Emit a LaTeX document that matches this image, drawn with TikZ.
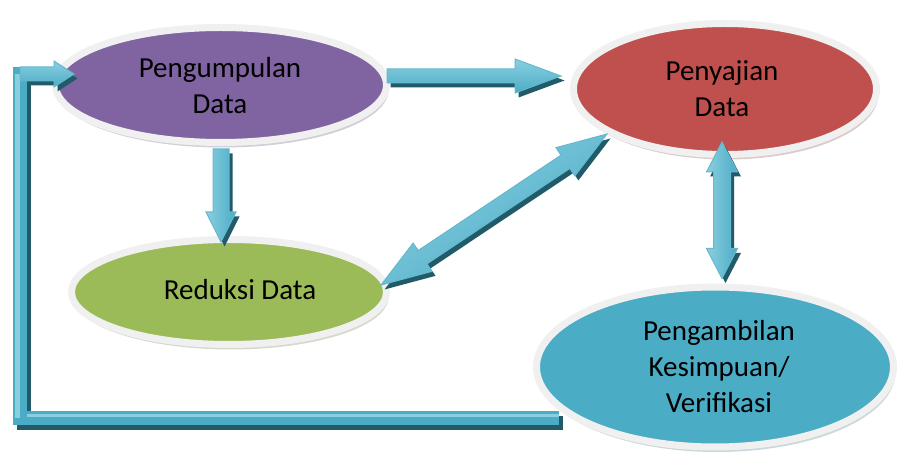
\documentclass[tikz,border=0pt]{standalone}
\usepackage{fontspec}
\setmainfont{Carlito}
\usetikzlibrary{shapes.geometric,shadows,calc}
\definecolor{purp}{HTML}{8064A2}
\definecolor{redd}{HTML}{C0504D}
\definecolor{grn}{HTML}{9BBB59}
\definecolor{aqua}{HTML}{4BACC6}
\definecolor{aqlight}{HTML}{8ACFE0}
\definecolor{aqdark}{HTML}{215A69}
\definecolor{ring}{HTML}{F0F0F0}
\tikzset{
 oval/.style={ellipse, line width=7pt, draw=ring, inner sep=0pt},
 lbl/.style={font=\fontsize{29}{36}\selectfont, align=center, text=black, inner sep=0pt},
 arrfill/.style={draw=aqua!85!white, line width=1pt, line join=miter, top color=aqlight, bottom color=aqua, shading angle=#1},
 arrshadow/.style={fill=aqdark, transform canvas={shift={(3.5pt,-4.5pt)}}},
 barfill/.style={draw=aqua, line width=14pt, line join=miter, line cap=butt},
 barlight/.style={draw=aqlight, line width=5pt, line cap=butt},
 barshadow/.style={draw=aqdark, line width=14pt, line join=miter, line cap=butt, transform canvas={shift={(3.5pt,-4.5pt)}}},
}
% single block arrow: #1 from, #2 to, #3 head length, #4 style
\newcommand\sarr[4]{%
 \coordinate (hb) at ($(#2)!#3!(#1)$);
 \path[#4] ($(#1)!\sw!90:(#2)$) -- ($(hb)!\sw!-90:(#1)$) -- ($(hb)!\hw!-90:(#1)$) -- (#2)
   -- ($(hb)!\hw!90:(#1)$) -- ($(hb)!\sw!90:(#1)$) -- ($(#1)!\sw!-90:(#2)$) -- cycle;}
% double block arrow
\newcommand\darr[4]{%
 \coordinate (hb) at ($(#2)!#3!(#1)$);
 \coordinate (hc) at ($(#1)!#3!(#2)$);
 \path[#4] (#1) -- ($(hc)!\hw!90:(#2)$) -- ($(hc)!\sw!90:(#2)$) -- ($(hb)!\sw!-90:(#1)$) -- ($(hb)!\hw!-90:(#1)$) -- (#2)
   -- ($(hb)!\hw!90:(#1)$) -- ($(hb)!\sw!90:(#1)$) -- ($(hc)!\sw!-90:(#2)$) -- ($(hc)!\hw!-90:(#2)$) -- cycle;}
\begin{document}
\begin{tikzpicture}[x=1pt,y=-1pt]
\useasboundingbox (0,0) rectangle (897,454);
\fill[white] (0,0) rectangle (897,454);
% ellipses
\node[oval, fill=purp, minimum width=331pt, minimum height=115pt,
  drop shadow={shadow xshift=2pt, shadow yshift=-5pt, fill=purp!45!gray!70}] (pg) at (221,85) {};
\node[oval, fill=redd, minimum width=303pt, minimum height=131pt,
  drop shadow={shadow xshift=2pt, shadow yshift=-5pt, fill=redd!40!gray!70}] (pj) at (725,89) {};
\node[oval, fill=grn, minimum width=315pt, minimum height=105pt,
  drop shadow={shadow xshift=2pt, shadow yshift=-5pt, fill=grn!40!gray!70}] (rd) at (229,292) {};
\node[oval, fill=aqua, minimum width=357pt, minimum height=160pt,
  drop shadow={shadow xshift=2pt, shadow yshift=-5pt, fill=aqua!40!gray!70}] (ks) at (715,367) {};
% labels
\node[lbl] (tpg) at (220,86) {Pengumpulan\\Data};
\node[lbl] (tpj) at (722,89) {Penyajian\\Data};
\node[lbl] (trd) at (240,290) {Reduksi Data};
\node[lbl] (tks) at (719,367) {Pengambilan\\Kesimpuan/\\Verifikasi};
% connector end points
\coordinate (a1s) at ($(pg.east)+(-3,-9)$);
\coordinate (a1e) at ($(pj.west)+(-9,-13)$);
\coordinate (a2s) at ($(pg.south)+(0,3)$);
\coordinate (a2e) at ($(rd.north)+(-8,6)$);
\coordinate (a3s) at (381,285);
\coordinate (a3e) at (607,134);
\coordinate (a4s) at ($(pj.south)+(-3,-16)$);
\coordinate (a4e) at ($(ks.north)+(7,-5)$);
\coordinate (lb) at ($(ks.west)+(26,51)$);
\coordinate (lc1) at (20,418);
\coordinate (lc2) at (20,74);
\coordinate (lhb) at (60,74);
\coordinate (lh) at ($(pg.west)+(22,-11)$);
% feedback loop
\draw[barshadow] (lb) -- (lc1) -- (lc2) -- (lhb);
\def\sw{7pt}\def\hw{13pt}
\sarr{lc2}{lh}{20pt}{arrshadow}
\draw[barfill] (lb) -- (lc1) -- (lc2) -- (lhb);
\draw[barlight] (lc2) ++(-3,0) -- ($(lc1)+(-3,0)$);
\draw[barlight, line width=3pt] ($(lc1)+(7,-3)$) -- ($(lb)+(0,-3)$);
\sarr{lc2}{lh}{20pt}{arrfill=0}
% arrows
\def\sw{7pt}\def\hw{17pt}
\sarr{a1s}{a1e}{46pt}{arrshadow}
\sarr{a1s}{a1e}{46pt}{arrfill=0}
\def\sw{8pt}\def\hw{15pt}
\sarr{a2s}{a2e}{30pt}{arrshadow}
\sarr{a2s}{a2e}{30pt}{arrfill=90}
\def\sw{8pt}\def\hw{17pt}
\darr{a3s}{a3e}{50pt}{arrshadow}
\darr{a3s}{a3e}{50pt}{arrfill=34}
\def\sw{8.5pt}\def\hw{15.5pt}
\darr{a4s}{a4e}{30pt}{arrshadow}
\darr{a4s}{a4e}{30pt}{arrfill=90}
\end{tikzpicture}
\end{document}
